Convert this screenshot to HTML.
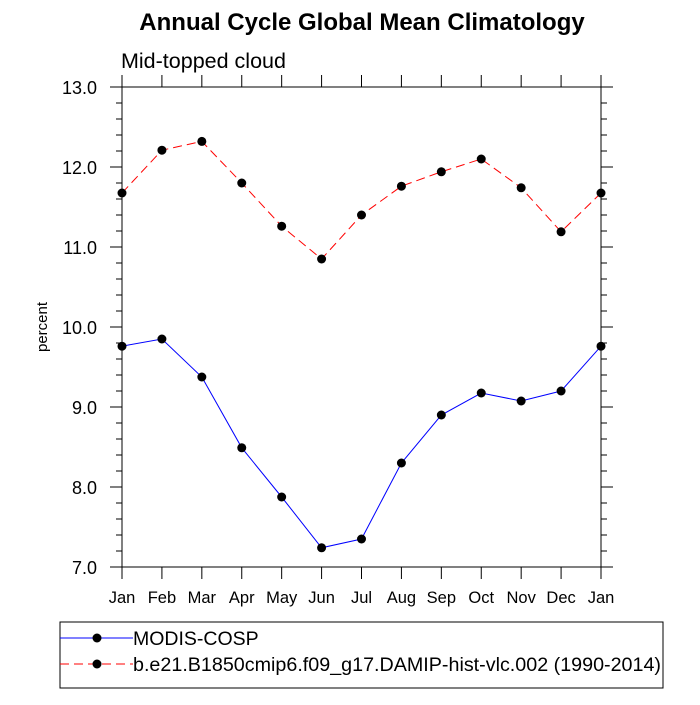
<!DOCTYPE html>
<html><head><meta charset="utf-8"><style>
body{margin:0;background:#fff;font-family:"Liberation Sans",sans-serif}
svg text{font-family:"Liberation Sans",sans-serif}
</style></head><body>
<svg width="700" height="700" viewBox="0 0 700 700" xmlns="http://www.w3.org/2000/svg">
<text x="362" y="30" font-size="24" font-weight="bold" text-anchor="middle">Annual Cycle Global Mean Climatology</text>
<text x="121" y="68" font-size="21.5">Mid-topped cloud</text>
<text transform="translate(47,327) rotate(-90)" font-size="15" text-anchor="middle">percent</text>
<g id="axes"></g>
<g id="series"></g>
<g>
<rect x="60" y="622" width="603" height="66" fill="none" stroke="#000" stroke-width="1"/>
<g>
<line x1="60" y1="638" x2="133" y2="638" stroke="#00f" stroke-width="1"/>
<circle cx="97" cy="638" r="4.5" fill="#000"/>
<text x="133" y="645" font-size="19.5">MODIS-COSP</text></g>
<g>
<line x1="60" y1="664" x2="133" y2="664" stroke="#f00" stroke-width="1" stroke-dasharray="9,5"/>
<circle cx="97" cy="664" r="4.5" fill="#000"/>
<text x="133" y="671" font-size="19.5" textLength="528" lengthAdjust="spacingAndGlyphs">b.e21.B1850cmip6.f09_g17.DAMIP-hist-vlc.002 (1990-2014)</text></g>
</g>
</svg>
<script>
const months=["Jan","Feb","Mar","Apr","May","Jun","Jul","Aug","Sep","Oct","Nov","Dec","Jan"];
const obsValues=[9.76,9.85,9.375,8.49,7.875,7.24,7.35,8.3,8.9,9.175,9.075,9.2,9.76];
const modelValues=[11.675,12.21,12.32,11.8,11.26,10.85,11.4,11.76,11.94,12.1,11.74,11.19,11.675];
const yTicks=[7,8,9,10,11,12,13];
const yTickLabels=["7.0","8.0","9.0","10.0","11.0","12.0","13.0"];
const X0=122,X1=601,Y0=567,Y1=87,ymin=7,ymax=13;
const xs=i=>X0+(X1-X0)*i/(months.length-1);
const ys=v=>Y0-(v-ymin)/(ymax-ymin)*(Y0-Y1);
const NS="http://www.w3.org/2000/svg";
function mk(t,a,p){const e=document.createElementNS(NS,t);for(const k in a)e.setAttribute(k,a[k]);p.appendChild(e);return e;}
const ax=document.getElementById('axes');
mk('rect',{x:X0,y:Y1,width:X1-X0,height:Y0-Y1,fill:'none',stroke:'#000','stroke-width':1},ax);
for(let v=ymin;v<=ymax+1e-6;v+=0.2){
 const y=ys(v);const major=Math.abs(v-Math.round(v))<1e-6;const L=major?12:6;
 mk('line',{x1:X0-L,y1:y,x2:X0,y2:y,stroke:'#000'},ax);
 mk('line',{x1:X1,y1:y,x2:X1+L,y2:y,stroke:'#000'},ax);
}
yTicks.forEach((v,i)=>{const t=mk('text',{x:97,y:ys(v)+7,'font-size':18,'text-anchor':'end'},ax);t.textContent=yTickLabels[i];

});
months.forEach((m,i)=>{const x=xs(i);
 mk('line',{x1:x,y1:Y0,x2:x,y2:Y0+12,stroke:'#000'},ax);
 mk('line',{x1:x,y1:Y1-12,x2:x,y2:Y1,stroke:'#000'},ax);
 const t=mk('text',{x:x,y:603,'font-size':16.5,'text-anchor':'middle'},ax);t.textContent=m;
 
 });
const sg=document.getElementById('series');
function draw(vals,color,dash,name){
 const p=mk('polyline',{points:vals.map((v,i)=>xs(i)+','+ys(v)).join(' '),fill:'none',stroke:color,'stroke-width':1,'stroke-dasharray':dash},sg);
 
 
 vals.forEach((v,i)=>{const c=mk('circle',{cx:xs(i),cy:ys(v),r:4.5,fill:'#000'},sg);
  
  });
}
draw(modelValues,'#f00','9,5','model');
draw(obsValues,'#00f','none','modis');
</script>
</body></html>
